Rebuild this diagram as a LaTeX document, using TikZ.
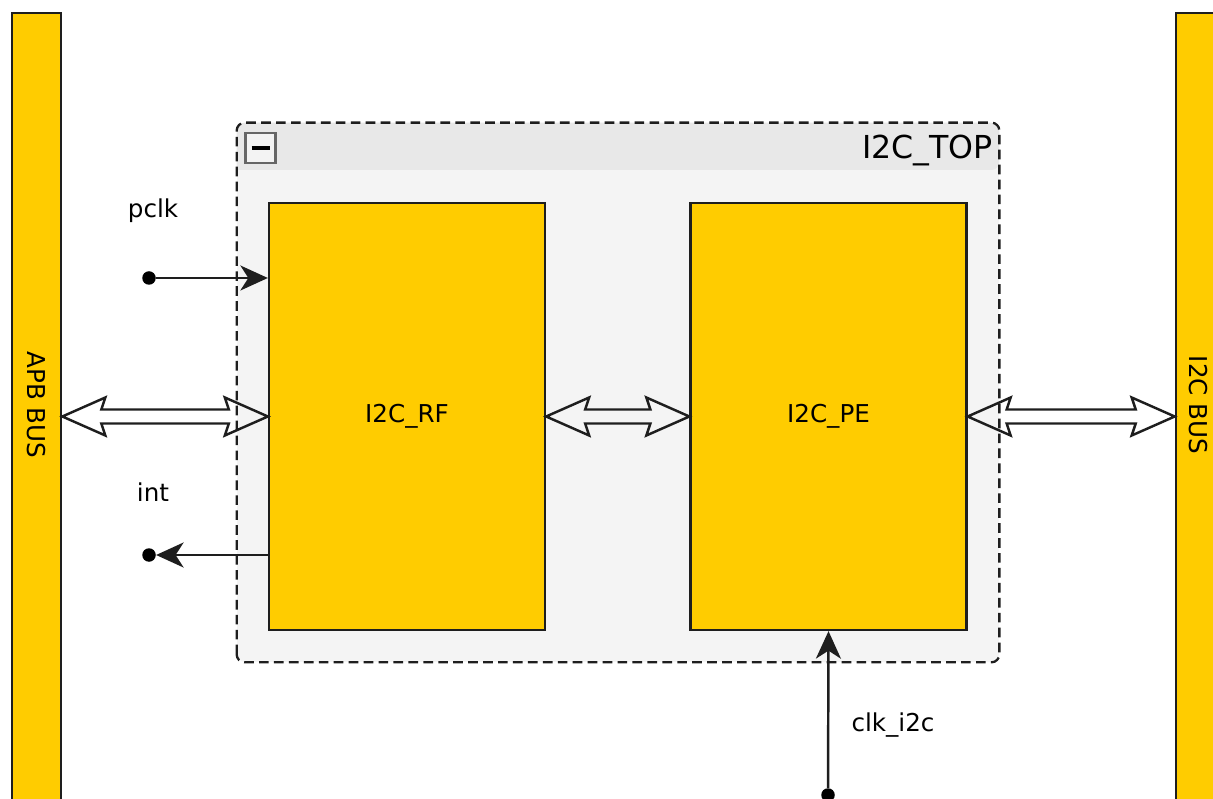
\documentclass[tikz,border=0pt]{standalone}
\usepackage{fontspec}
\setmainfont{DejaVu Sans}
\usetikzlibrary{arrows.meta, calc}
\definecolor{blockyellow}{HTML}{FFCC00}
\definecolor{groupfill}{HTML}{F4F4F4}
\definecolor{headerfill}{HTML}{E8E8E8}
\definecolor{edgegray}{HTML}{1E1E1E}

% hollow double-headed bus arrow between two points on one level
\newcommand{\busarrow}[2]{%
  \draw[busline] let \p1=(#1), \p2=(#2) in
    (\x1,\y1) -- (\x1+0.86cm,\y1+0.38cm) -- (\x1+0.78cm,\y1+0.14cm)
    -- (\x2-0.78cm,\y1+0.14cm) -- (\x2-0.86cm,\y1+0.38cm) -- (\x2,\y1)
    -- (\x2-0.86cm,\y1-0.38cm) -- (\x2-0.78cm,\y1-0.14cm)
    -- (\x1+0.78cm,\y1-0.14cm) -- (\x1+0.86cm,\y1-0.38cm) -- cycle;}

\begin{document}
\begin{tikzpicture}[
      every node/.style={font=\fontsize{14pt}{16pt}\selectfont},
      block/.style={draw=edgegray, line width=1.3pt, fill=blockyellow,
        minimum width=5.52cm, minimum height=8.54cm, inner sep=0pt},
      busbar/.style={draw=edgegray, line width=1.5pt, fill=blockyellow,
        minimum width=0.98cm, minimum height=16.08cm, inner sep=0pt},
      busline/.style={draw=edgegray, line width=1.4pt, line join=miter},
      sig/.style={draw=edgegray, line width=1.4pt,
        -{Stealth[length=0.55cm, width=0.5cm, inset=0.16cm]}},
      pin/.style={circle, fill=black, inner sep=0pt, minimum size=0.27cm}]
    \useasboundingbox (0,0) rectangle (24.26,15.96);

    % buses
    \node[busbar] (apb) at (0.73,7.66) {};
    \node[rotate=-90] (apblabel) at (0.73,7.86) {APB BUS};
    \node[busbar] (i2cbus) at (24.01,7.66) {};
    \node[rotate=-90] (i2clabel) at (23.96,7.86) {I2C BUS};

    % I2C_TOP group
    \node[fill=groupfill, rounded corners=0.16cm, minimum width=15.24cm,
          minimum height=10.78cm, inner sep=0pt] (top) at (12.36,8.11) {};
    \fill[headerfill] (top.west |- 0,12.56)
        {[rounded corners=0.16cm] |- (top.north) -| (top.east |- 0,12.56)} -- cycle;
    \draw[edgegray, line width=1.3pt, dash pattern=on 5.5pt off 3pt,
          rounded corners=0.16cm] (top.south west) rectangle (top.north east);
    \node[draw=gray!80!black, line width=1.4pt, fill=headerfill!50!white,
          minimum size=0.6cm, inner sep=0pt] (fold) at (5.21,13.0) {};
    \draw[line width=2.6pt] ($(fold.center)+(-0.18,0)$) -- ++(0.36,0);
    \node[anchor=east, inner sep=0pt, font=\fontsize{18pt}{20pt}\selectfont]
        (toplabel) at (19.86,12.96) {I2C\_TOP};

    % blocks
    \node[block] (rf) at (8.14,7.63) {I2C\_RF};
    \node[block] (pe) at (16.57,7.63) {I2C\_PE};

    % single signals
    \node[pin] (pclkpin) at (2.98,10.4) {};
    \node (pclk) at (3.06,11.74) {pclk};
    \draw[sig] (pclkpin) -- (pclkpin -| rf.west);

    \node[pin] (intpin) at (2.98,4.86) {};
    \node (int) at (3.06,6.12) {int};
    \draw[sig] (intpin -| rf.west) -- (intpin);

    \node[pin] (clkpin) at (16.56,0.06) {};
    \node (clk) at (17.86,1.46) {clk\_i2c};
    \draw[sig] (clkpin) -- (pe.south);

    % bus connections
    \busarrow{apb.east |- rf.west}{rf.west}
    \busarrow{rf.east}{pe.west}
    \busarrow{pe.east}{i2cbus.west |- pe.east}
  \end{tikzpicture}
\end{document}
